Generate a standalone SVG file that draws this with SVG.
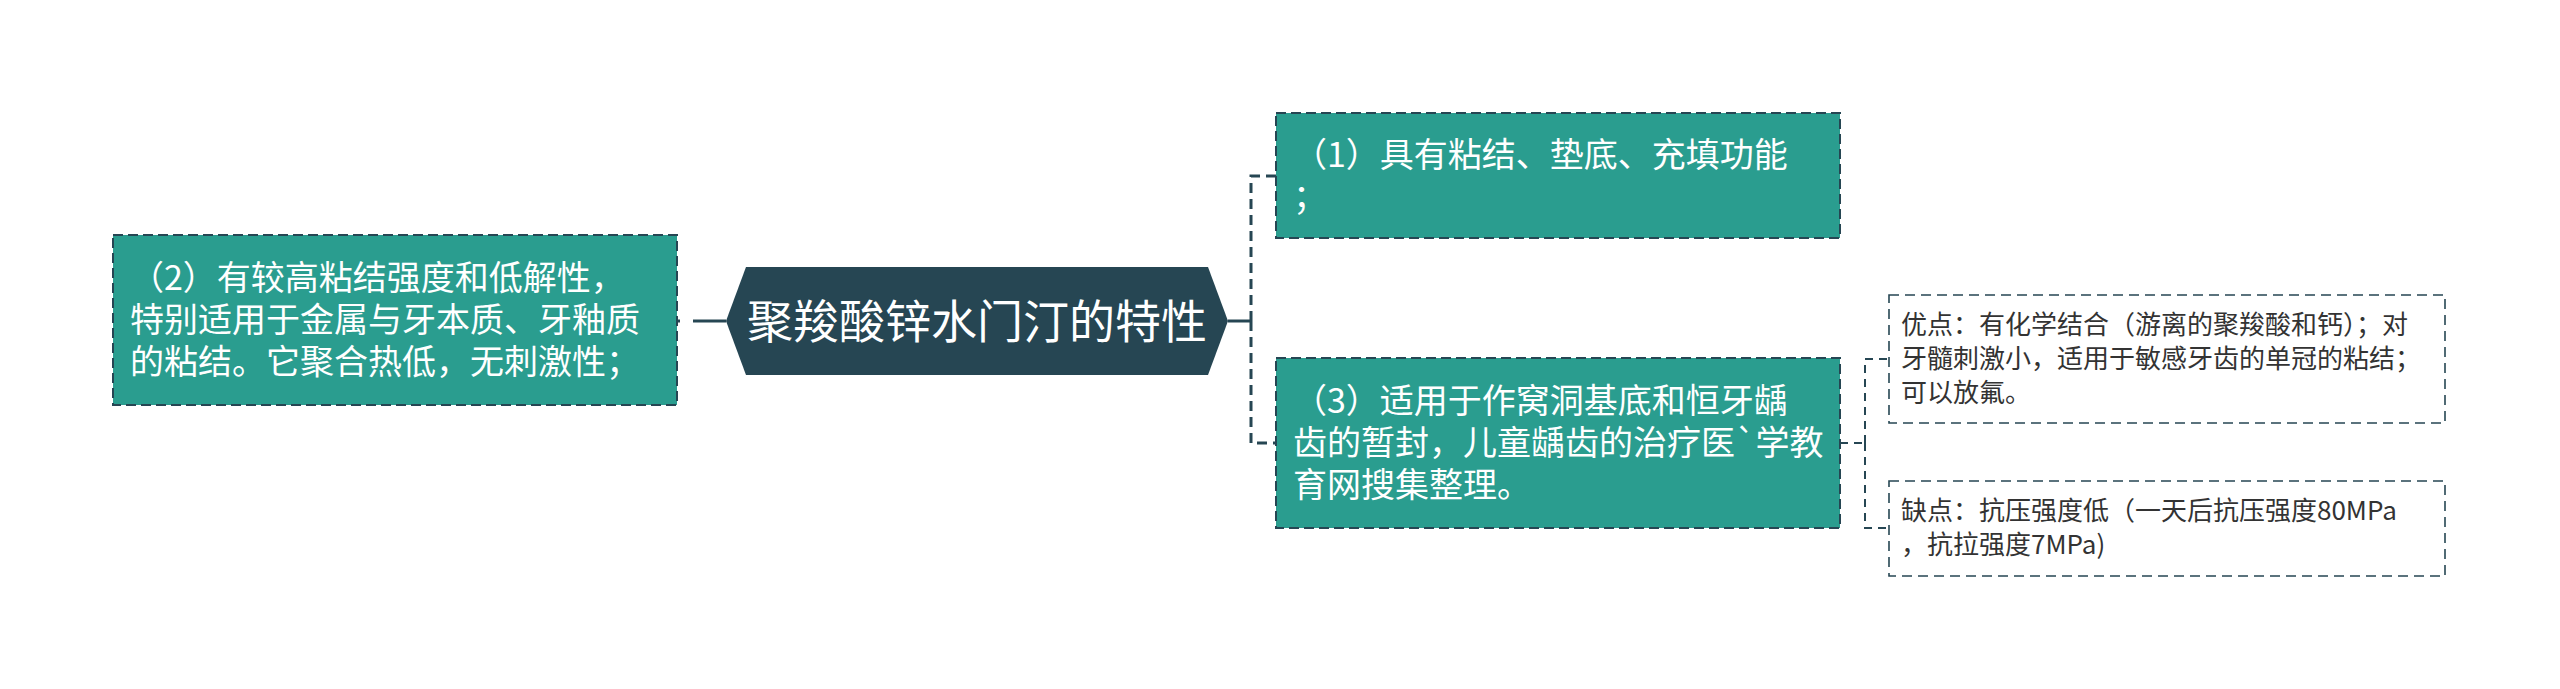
<svg xmlns="http://www.w3.org/2000/svg" width="2560" height="689" viewBox="0 0 2560 689">
<style>
.teal{fill:#2A9D8F;stroke:#264653;stroke-width:2;stroke-dasharray:10 5}
.sub{fill:#ffffff;stroke:#264653;stroke-width:1.6;stroke-dasharray:10 6}
.t{font-family:"Noto Sans CJK SC","Noto Sans",sans-serif;fill:#ffffff;font-size:34px}
.s{font-family:"Noto Sans CJK SC","Noto Sans",sans-serif;fill:#333333;font-size:26px}
.c{font-family:"Noto Sans CJK SC","Noto Sans",sans-serif;fill:#ffffff;font-size:46px}
.ln{fill:none;stroke:#264653;stroke-width:3}
.dl{fill:none;stroke:#264653;stroke-width:3;stroke-dasharray:10 6}
.ds{fill:none;stroke:#264653;stroke-width:2;stroke-dasharray:8 6}
</style>
<rect width="2560" height="689" fill="#ffffff"/>
<g id="connectors">
<path class="dl" d="M726,321 H677" style="stroke-dasharray:33 13"/>
<path class="ln" d="M1228,321 H1251"/>
<path class="dl" d="M1251,321 V176 H1276"/>
<path class="dl" d="M1251,321 V443 H1276"/>
<path class="ds" d="M1840,443 H1865"/>
<path class="ds" d="M1865,443 V359 H1889"/>
<path class="ds" d="M1865,443 V528 H1889"/>
</g>
<g id="root">
<polygon points="726,321 746,267 1208,267 1228,321 1208,375 746,375" fill="#264653"/>
<text class="c" x="977" y="338" text-anchor="middle">聚羧酸锌水门汀的特性</text>
</g>
<g id="node2">
<rect class="teal" x="113" y="235" width="564" height="170"/>
<text class="t" x="130" y="290">（2）有较高粘结强度和低解性，</text>
<text class="t" x="130" y="332">特别适用于金属与牙本质、牙釉质</text>
<text class="t" x="130" y="374">的粘结。它聚合热低，无刺激性；</text>
</g>
<g id="node1">
<rect class="teal" x="1276" y="113" width="564" height="125"/>
<text class="t" x="1293" y="167">（1）具有粘结、垫底、充填功能</text>
<text class="t" x="1293" y="209">；</text>
</g>
<g id="node3">
<rect class="teal" x="1276" y="358" width="564" height="170"/>
<text class="t" x="1293" y="413">（3）适用于作窝洞基底和恒牙龋</text>
<text class="t" x="1293" y="455">齿的暂封，儿童龋齿的治疗医`学教</text>
<text class="t" x="1293" y="497">育网搜集整理。</text>
</g>
<g id="pro">
<rect class="sub" x="1889" y="295" width="556" height="128"/>
<text class="s" x="1901" y="334">优点：有化学结合（游离的聚羧酸和钙）；对</text>
<text class="s" x="1901" y="368">牙髓刺激小，适用于敏感牙齿的单冠的粘结；</text>
<text class="s" x="1901" y="402">可以放氟。</text>
</g>
<g id="con">
<rect class="sub" x="1889" y="481" width="556" height="95"/>
<text class="s" x="1901" y="520">缺点：抗压强度低（一天后抗压强度80MPa</text>
<text class="s" x="1901" y="554">，抗拉强度7MPa)</text>
</g>
</svg>
